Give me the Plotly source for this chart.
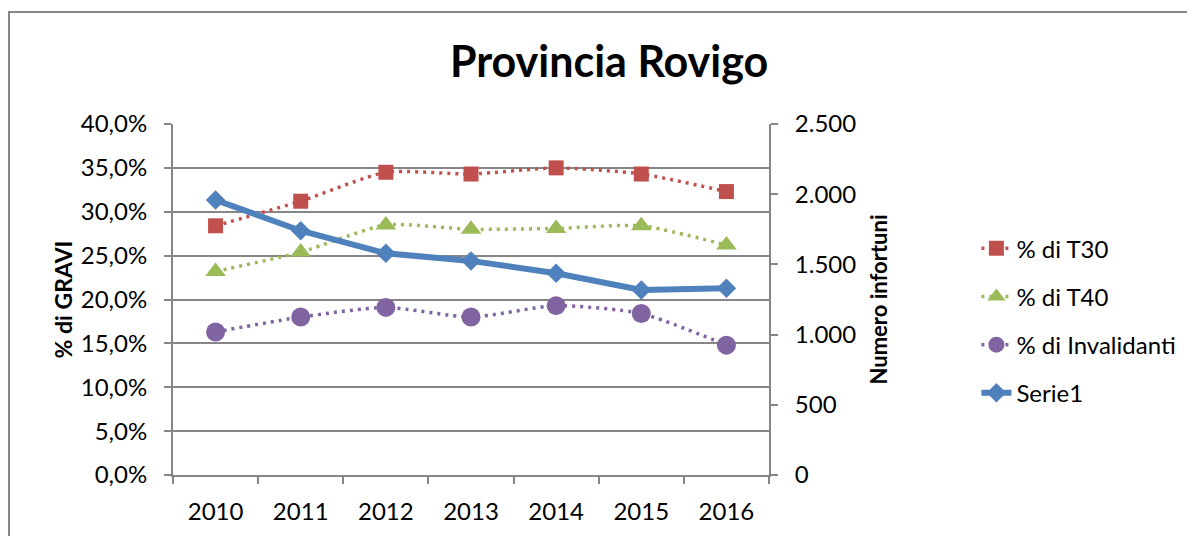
import plotly.graph_objects as go

years = ["2010", "2011", "2012", "2013", "2014", "2015", "2016"]
pct_t30 = [0.284, 0.312, 0.345, 0.343, 0.350, 0.343, 0.323]
pct_t40 = [0.232, 0.254, 0.285, 0.280, 0.281, 0.284, 0.262]
pct_invalidanti = [0.163, 0.180, 0.191, 0.180, 0.193, 0.184, 0.148]
serie1 = [1959, 1740, 1579, 1525, 1437, 1318, 1330]

FONT = "Lato"
GRID = "#868686"
RED = "#C0504D"
GREEN = "#9BBB59"
PURPLE = "#8064A2"
BLUE = "#4F81BD"

# plot area geometry (px, inside the figure)
L, T, PW, PH = 165, 116, 596, 351
W, H = 1195, 536

fig = go.Figure()

fig.add_trace(go.Scatter(x=years, y=pct_t30, name="% di T30", legendgroup="a",
                         mode="lines+markers",
                         line=dict(color=RED, width=3.5, dash="3px,5px", shape="spline", smoothing=0.6),
                         marker=dict(symbol="square", size=15, color=RED)))
fig.add_trace(go.Scatter(x=years, y=pct_t40, name="% di T40", legendgroup="b",
                         mode="lines+markers",
                         line=dict(color=GREEN, width=3.5, dash="3px,5px", shape="spline", smoothing=0.6),
                         marker=dict(symbol="triangle-up", size=18, color=GREEN)))
fig.add_trace(go.Scatter(x=years, y=pct_invalidanti, name="% di Invalidanti", legendgroup="c",
                         mode="lines+markers",
                         line=dict(color=PURPLE, width=3.5, dash="3px,5px", shape="spline", smoothing=0.6),
                         marker=dict(symbol="circle", size=19, color=PURPLE)))
fig.add_trace(go.Scatter(x=years, y=serie1, name="Serie1", legendgroup="d", yaxis="y2",
                         mode="lines+markers",
                         line=dict(color=BLUE, width=6),
                         marker=dict(symbol="diamond", size=15, color=BLUE)))

fig.update_layout(
    width=W, height=H,
    margin=dict(l=L, r=W - L - PW, t=T, b=H - T - PH, autoexpand=False),
    paper_bgcolor="white", plot_bgcolor="white",
    separators=",.",
    font=dict(family=FONT, size=24, color="black"),
    title=dict(text="<b>Provincia Rovigo</b>", x=0.503, xanchor="center",
               y=1 - 54 / H, yanchor="middle", yref="container",
               font=dict(family=FONT, size=43, color="black")),
    xaxis=dict(type="category", categoryorder="array", categoryarray=years,
               range=[-0.5, 6.5], tickson="boundaries", ticks="outside", ticklen=7,
               tickwidth=2, tickcolor=GRID, showline=True, linecolor=GRID, linewidth=2,
               showgrid=False, ticklabelstandoff=14, tickfont=dict(size=24)),
    yaxis=dict(range=[0, 0.4], dtick=0.05, tickformat=".1%", ticks="outside", ticklen=7,
               tickwidth=2, tickcolor=GRID, showline=True, linecolor=GRID, linewidth=2,
               showgrid=True, gridcolor=GRID, gridwidth=2, zeroline=False,
               ticklabelstandoff=12, tickfont=dict(size=24),
               title=dict(text="<b>% di GRAVI</b>", standoff=2, font=dict(size=23))),
    yaxis2=dict(range=[0, 2500], dtick=500, tickformat=",.0f", overlaying="y", side="right",
                ticks="outside", ticklen=7, tickwidth=2, tickcolor=GRID,
                showline=True, linecolor=GRID, linewidth=2, showgrid=False, zeroline=False,
                ticklabelstandoff=12, tickfont=dict(size=24),
                title=dict(text="<b>Numero infortuni</b>", standoff=16, font=dict(size=22))),
    legend=dict(x=1.348, xanchor="left", y=0.709, yanchor="top", traceorder="grouped",
                tracegroupgap=14, font=dict(size=24), bgcolor="rgba(0,0,0,0)"),
    showlegend=True,
)

# outer chart-area border (only its top and left edges fall inside the picture)
fig.add_shape(type="rect", xref="paper", yref="paper",
              x0=(1 - L) / PW, x1=(W + 30 - L) / PW,
              y0=-(H + 30 - T - PH) / PH, y1=(T + PH - 4) / PH,
              line=dict(color=GRID, width=2), fillcolor="rgba(0,0,0,0)", layer="below")

fig.write_html("out.html")
